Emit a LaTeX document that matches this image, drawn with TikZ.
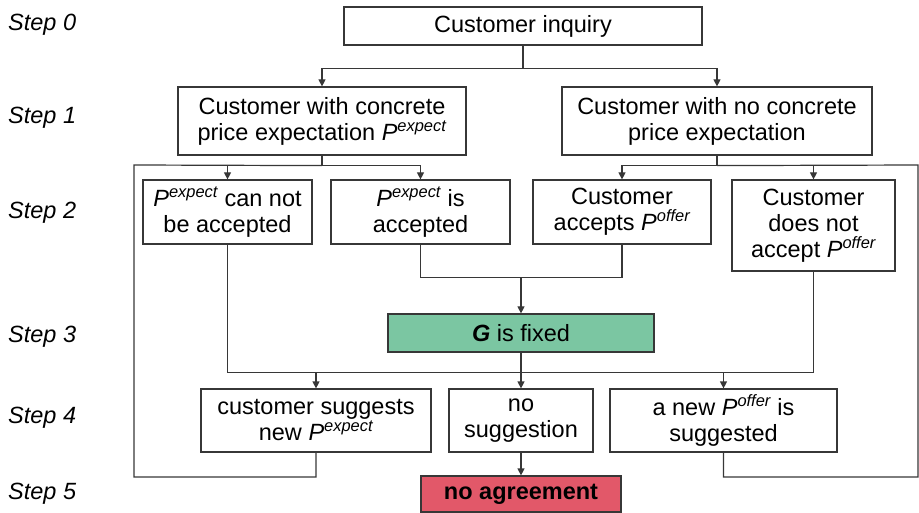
\documentclass[tikz,border=0pt]{standalone}
\usepackage{fontspec}
\setmainfont{Liberation Sans}
\usetikzlibrary{arrows.meta}
\definecolor{fixgreen}{RGB}{123,198,162}
\definecolor{stopred}{RGB}{226,88,105}
\definecolor{edge}{RGB}{55,55,55}
\newcommand\Pexp{\textit{P}\textsuperscript{\itshape expect}}
\newcommand\Poff{\textit{P}\textsuperscript{\itshape offer}}
\begin{document}
\begin{tikzpicture}[x=1pt,y=-1pt,
  every node/.style={font=\fontsize{23.5}{26}\selectfont},
  box/.style={draw=edge, line width=1.2pt, inner sep=0pt, align=center, fill=white},
  steplabel/.style={anchor=west, inner sep=0pt, font=\fontsize{23.5}{26}\selectfont\itshape},
  link/.style={draw=edge, line width=1.2pt},
  arr/.style={link, -{Triangle[width=7pt,length=7pt]}}]
\useasboundingbox (0,0) rectangle (919,513);

% step labels
\node[steplabel] (s0) at (8,25)  {Step 0};
\node[steplabel] (s1) at (8,118) {Step 1};
\node[steplabel] (s2) at (8,213) {Step 2};
\node[steplabel] (s3) at (8,337) {Step 3};
\node[steplabel] (s4) at (8,418) {Step 4};
\node[steplabel] (s5) at (8,494) {Step 5};

% boxes
\node[box, minimum width=358pt, minimum height=38pt] (inq) at (523,26) {Customer inquiry};
\node[box, minimum width=288pt, minimum height=68pt] (c1) at (322,121) {Customer with concrete\\price expectation \Pexp};
\node[box, minimum width=310pt, minimum height=68pt] (c2) at (717,121) {Customer with no concrete\\price expectation};
\node[box, minimum width=169pt, minimum height=64pt] (A) at (227.5,212) {\Pexp{} can not\\be accepted};
\node[box, minimum width=179pt, minimum height=64pt] (B) at (420.5,212) {\Pexp{} is\\accepted};
\node[box, minimum width=178pt, minimum height=64pt] (C) at (622,212) {Customer\\accepts \Poff};
\node[box, minimum width=163pt, minimum height=91pt] (D) at (813.5,225.5) {Customer\\does not\\accept \Poff};
\node[box, fill=fixgreen, minimum width=266pt, minimum height=38pt] (G) at (521,333) {\textbf{\textit{G}} is fixed};
\node[box, minimum width=230pt, minimum height=63pt] (E) at (316,420.5) {customer suggests\\new \Pexp};
\node[box, minimum width=144pt, minimum height=63pt] (F) at (521,420.5) {no\\suggestion};
\node[box, minimum width=227pt, minimum height=63pt] (H) at (723.5,420.5) {a new \Poff{} is\\suggested};
\node[box, fill=stopred, minimum width=200pt, minimum height=36pt] (NA) at (521,494) {\textbf{no agreement}};

% step 0 -> step 1
\draw[link] (inq.south) -- ++(0,23) coordinate (j0);
\draw[arr] (j0) -| (c1.north);
\draw[arr] (j0) -| (c2.north);

% step 1 -> step 2
\draw[link] (c1.south) -- ++(0,10) coordinate (j1);
\draw[arr] (j1) -| (A.north);
\draw[arr] (j1) -| (B.north);
\draw[link] (c2.south) -- ++(0,10) coordinate (j2);
\draw[arr] (j2) -| (C.north);
\draw[arr] (j2) -| (D.north);

% step 2 -> step 3
\path (G.north) ++(0,-36) coordinate (m3);
\draw[link] (B.south) |- (m3);
\draw[link] (C.south) |- (m3);
\draw[arr] (m3) -- (G.north);

% step 2/3 -> step 4
\path (G.south) ++(0,20) coordinate (m4);
\draw[link] (A.south) |- (m4);
\draw[link] (D.south) |- (m4);
\draw[link] (G.south) -- (m4);
\draw[arr] (m4) -| (E.north);
\draw[arr] (m4) -- (F.north);
\draw[arr] (m4) -| (H.north);

% step 4 -> step 5
\draw[arr] (F.south) -- (NA.north);

% feedback loops back to step 2
\coordinate (loopLb) at (134,477);
\coordinate (loopLt) at (134,165);
\draw[link] (E.south) |- (loopLb) -- (loopLt) -- (j1);
\coordinate (loopRb) at (918,477);
\coordinate (loopRt) at (918,165);
\draw[link] (H.south) |- (loopRb) -- (loopRt) -- (j2);
\end{tikzpicture}
\end{document}
